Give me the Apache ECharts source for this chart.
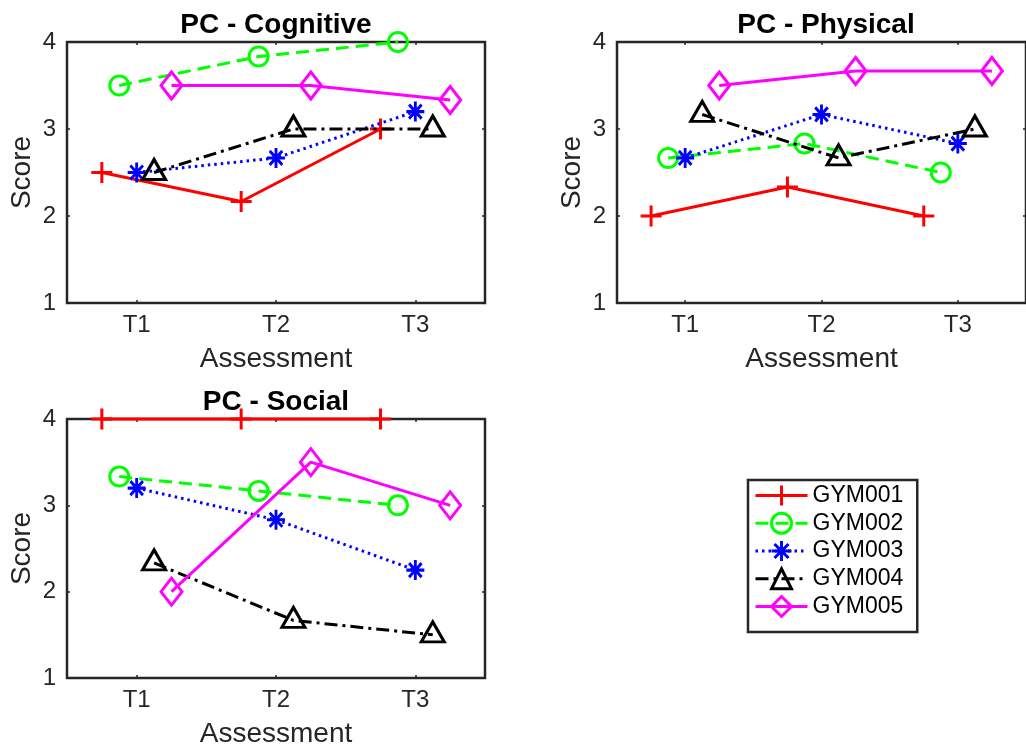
<!DOCTYPE html>
<html>
<head>
<meta charset="utf-8">
<title>PC scores by assessment</title>
<script src="https://cdn.jsdelivr.net/npm/echarts@6/dist/echarts.min.js"></script>
<style>
  html, body { margin: 0; padding: 0; background: #fff; }
  #chart { width: 1026px; height: 749px; }
</style>
</head>
<body>
<div id="chart"></div>
<script>
// Assessment time points and participants
const assessments = ['T1', 'T2', 'T3'];
const subjects = ['GYM001', 'GYM002', 'GYM003', 'GYM004', 'GYM005'];
const yTicks = [1, 2, 3, 4];

// Scores per participant (rows follow `subjects`, columns follow `assessments`)
const cognitiveScores = [
  [2.5, 2.167, 3.0],
  [3.5, 3.833, 4.0],
  [2.5, 2.667, 3.2],
  [2.5, 3.0, 3.0],
  [3.5, 3.5, 3.333]
];
const physicalScores = [
  [2.0, 2.333, 2.0],
  [2.667, 2.833, 2.5],
  [2.667, 3.167, 2.833],
  [3.167, 2.667, 3.0],
  [3.5, 3.667, 3.667]
];
const socialScores = [
  [4.0, 4.0, 4.0],
  [3.333, 3.167, 3.0],
  [3.2, 2.833, 2.25],
  [2.333, 1.667, 1.5],
  [2.0, 3.5, 3.0]
];

const panelTitles = ['PC - Cognitive', 'PC - Physical', 'PC - Social'];

// ---- styling ----
const axisColor = '#262626';
const colors = ['#ff0000', '#00ff00', '#0000ff', '#000000', '#ff00ff'];
const dashes = ['solid', [13, 7], [2.5, 4], [13, 5, 3, 5], 'solid'];
const markers = [
  { symbol: 'path://M0,-10L0,10M-10,0L10,0', size: [21, 21], offset: [0, 0] },
  { symbol: 'circle', size: 19, offset: [0, 0] },
  { symbol: 'path://M0,-10L0,10M-10,0L10,0M-7,-7L7,7M-7,7L7,-7', size: [18, 20], offset: [0, 0] },
  { symbol: 'path://M0,-10L11.5,10L-11.5,10Z', size: [23, 20], offset: [0, -3] },
  { symbol: 'diamond', size: [21, 27], offset: [0, 0] }
];
// horizontal dodge so that markers of different participants do not overlap
const dodge = [-0.25, -0.125, 0, 0.125, 0.25];

// panel boxes (px)
const grids = [
  { left: 67, top: 42, width: 418, height: 261 },
  { left: 617, top: 42, width: 418, height: 261 },
  { left: 67, top: 419, width: 418, height: 261 }
];
const panelScores = [cognitiveScores, physicalScores, socialScores];
const tickPos = assessments.map((_, i) => i + 1);

const tickStyle = { show: true, inside: true, length: 3, lineStyle: { color: axisColor, width: 1.5 } };
const labelFont = { fontFamily: 'Liberation Sans, Arial, sans-serif' };

const xAxes = [], yAxes = [], series = [], titles = [];
grids.forEach((g, gi) => {
  xAxes.push({
    gridIndex: gi, type: 'value', position: 'bottom', min: 0.5, max: 3.5,
    name: 'Assessment', nameLocation: 'middle', nameGap: 42,
    nameTextStyle: Object.assign({ fontSize: 28, color: axisColor }, labelFont),
    axisLine: { show: false }, splitLine: { show: false },
    axisTick: Object.assign({ customValues: tickPos }, tickStyle),
    axisLabel: Object.assign({
      customValues: tickPos, fontSize: 24, color: axisColor, margin: 10,
      formatter: v => assessments[Math.round(v) - 1]
    }, labelFont)
  });
  xAxes.push({
    gridIndex: gi, type: 'value', position: 'top', min: 0.5, max: 3.5,
    axisLine: { show: false }, splitLine: { show: false },
    axisTick: Object.assign({ customValues: tickPos }, tickStyle),
    axisLabel: { show: false }
  });
  yAxes.push({
    gridIndex: gi, type: 'value', position: 'left', min: 1, max: 4, interval: 1,
    name: 'Score', nameLocation: 'middle', nameGap: 31,
    nameTextStyle: Object.assign({ fontSize: 28, color: axisColor }, labelFont),
    axisLine: { show: false }, splitLine: { show: false },
    axisTick: tickStyle,
    axisLabel: Object.assign({
      fontSize: 24, color: axisColor, margin: 11,
      customValues: yTicks
    }, labelFont)
  });
  yAxes.push({
    gridIndex: gi, type: 'value', position: 'right', min: 1, max: 4, interval: 1,
    axisLine: { show: false }, splitLine: { show: false },
    axisTick: tickStyle, axisLabel: { show: false }
  });
  titles.push({
    text: panelTitles[gi], left: g.left + g.width / 2, top: gi === 2 ? 388 : 11,
    textAlign: 'center', padding: 0,
    textStyle: Object.assign({ fontSize: 28, fontWeight: 'bold', color: '#000' }, labelFont)
  });
  const scores = panelScores[gi];
  subjects.forEach((name, s) => {
    series.push({
      type: 'line', name,
      xAxisIndex: gi * 2, yAxisIndex: gi * 2,
      data: scores[s].map((v, i) => [tickPos[i] + dodge[s], v]),
      clip: false,
      symbol: markers[s].symbol, symbolSize: markers[s].size, symbolOffset: markers[s].offset,
      itemStyle: { color: 'none', borderColor: colors[s], borderWidth: 3 },
      lineStyle: { color: colors[s], width: 3, type: dashes[s] },
      emphasis: { disabled: true },
      z: 2 + s
    });
  });
});

const chart = echarts.init(document.getElementById('chart'), null, { renderer: 'canvas' });
chart.setOption({
  animation: false,
  backgroundColor: '#fff',
  title: titles,
  grid: grids.map(g => Object.assign({ show: true, borderColor: axisColor, borderWidth: 2.5, backgroundColor: 'transparent' }, g)),
  xAxis: xAxes,
  yAxis: yAxes,
  legend: {
    data: subjects, orient: 'vertical', left: 748, top: 480,
    padding: [3, 14, 13, 6], itemWidth: 52, itemHeight: 25, itemGap: 2.75,
    backgroundColor: '#fff', borderColor: axisColor, borderWidth: 2.5,
    selectedMode: false,
    lineStyle: { width: 3 },
    itemStyle: { borderWidth: 3 },
    textStyle: Object.assign({ fontSize: 23, color: '#000', lineHeight: 25 }, labelFont)
  },
  series
});
</script>
</body>
</html>
